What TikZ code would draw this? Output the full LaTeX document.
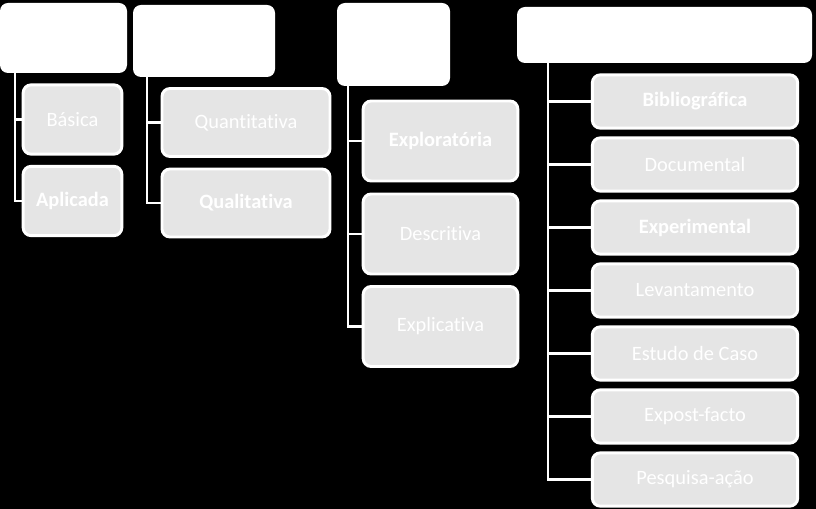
\documentclass[tikz,border=0pt]{standalone}
\usepackage{fontspec}
\setmainfont[Ligatures=NoCommon]{Carlito}
\definecolor{boxgray}{RGB}{229,229,229}
\begin{document}
\begin{tikzpicture}[x=0.75pt,y=-0.75pt,
  head/.style={fill=white,rounded corners=6pt,inner sep=0pt},
  item/.style={fill=boxgray,draw=white,line width=2.2pt,rounded corners=6pt,
    text=white,inner sep=0pt,font=\fontsize{15.3}{18}\selectfont},
  conn/.style={draw=white,line width=2.2pt}]

\fill[black] (0,0) rectangle (816,509);
\useasboundingbox (0,0) rectangle (816,509);

% top boxes
\node[head,minimum width=95.25pt,minimum height=52.5pt] (h1) at (63.5,38) {};
\node[head,minimum width=106.5pt,minimum height=54pt] (h2) at (204,41) {};
\node[head,minimum width=84.75pt,minimum height=62.25pt] (h3) at (393.5,44.5) {};
\node[head,minimum width=221.25pt,minimum height=42pt] (h4) at (664.5,35) {};

% first column
\node[item,minimum width=74pt,minimum height=52pt] (basica) at (72.5,119.5) {Básica};
\node[item,minimum width=74pt,minimum height=52pt] (aplicada) at (72.5,201) {\textbf{Aplicada}};

% second column
\node[item,minimum width=126pt,minimum height=51pt] (quanti) at (246,122.5) {Quantitativa};
\node[item,minimum width=126pt,minimum height=51pt] (quali) at (246,203) {\textbf{Qualitativa}};

% third column
\node[item,minimum width=116pt,minimum height=60pt] (explo) at (440.5,141) {\textbf{Exploratória}};
\node[item,minimum width=116pt,minimum height=60pt] (descr) at (440.5,234) {Descritiva};
\node[item,minimum width=116pt,minimum height=60pt] (expli) at (440.5,326.5) {Explicativa};

% fourth column
\node[item,minimum width=154pt,minimum height=40pt] (biblio) at (695,101.5) {\textbf{Bibliográfica}};
\node[item,minimum width=154pt,minimum height=40pt] (docum) at (695,164.5) {Documental};
\node[item,minimum width=154pt,minimum height=40pt] (exper) at (695,227.5) {\textbf{Experimental}};
\node[item,minimum width=154pt,minimum height=40pt] (levan) at (695,290.5) {Levantamento};
\node[item,minimum width=154pt,minimum height=40pt] (estudo) at (695,353.5) {Estudo de Caso};
\node[item,minimum width=154pt,minimum height=40pt] (expost) at (695,416.5) {Expost-facto};
\node[item,minimum width=154pt,minimum height=40pt] (pesq) at (695,479.5) {Pesquisa-ação};

\coordinate (t1) at (15,73);
\coordinate (t2) at (147,77);
\coordinate (t3) at (348,86);
\coordinate (t4) at (548,63);

\foreach \n in {basica,aplicada}
  {\draw[conn] (t1) |- (\n.west);}
\foreach \n in {quanti,quali}
  {\draw[conn] (t2) |- (\n.west);}
\foreach \n in {explo,descr,expli}
  {\draw[conn] (t3) |- (\n.west);}
\foreach \n in {biblio,docum,exper,levan,estudo,expost,pesq}
  {\draw[conn] (t4) |- (\n.west);}
\end{tikzpicture}
\end{document}
